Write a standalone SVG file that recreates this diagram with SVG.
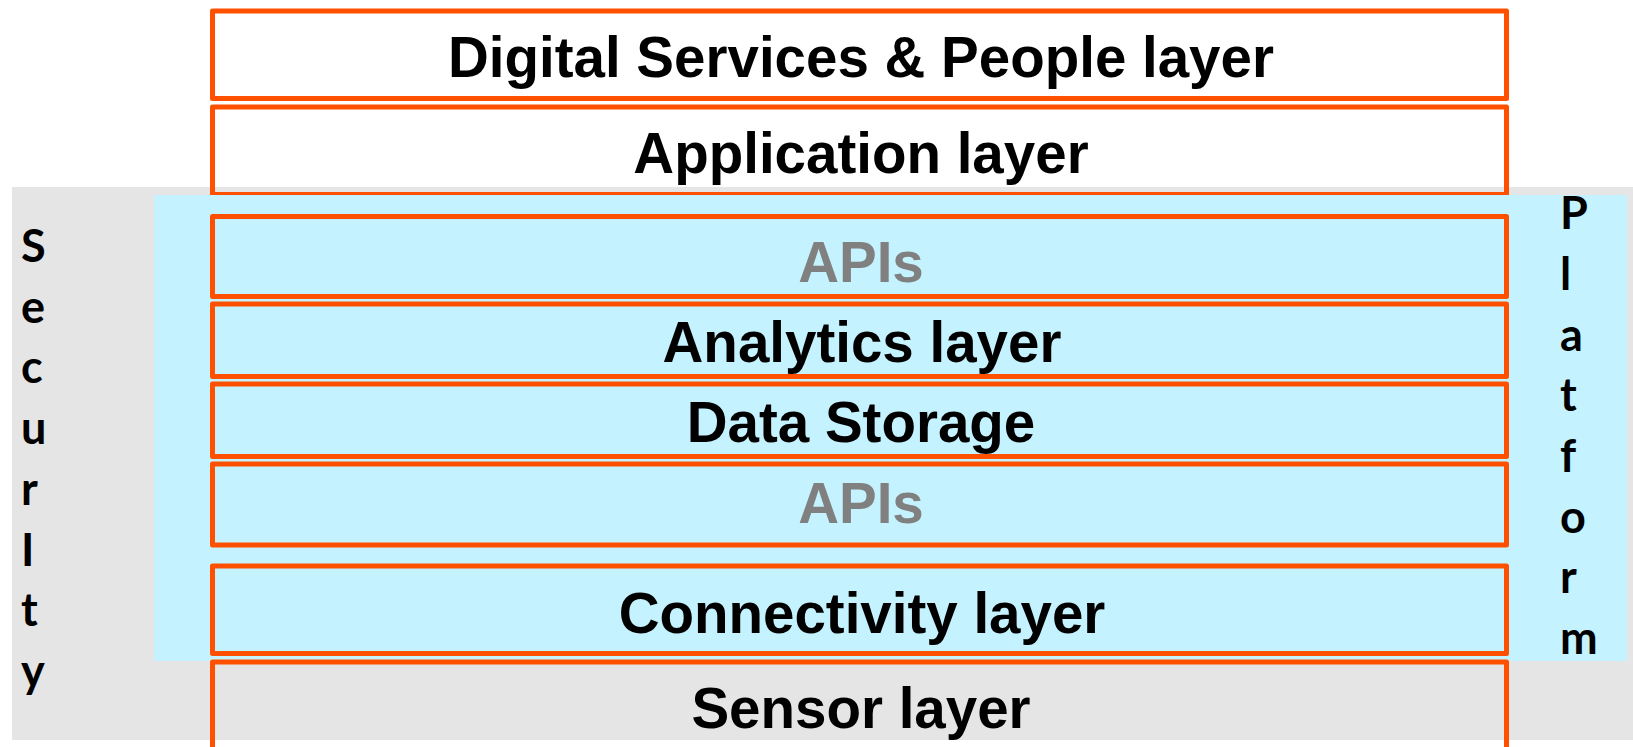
<svg xmlns="http://www.w3.org/2000/svg" width="1633" height="747" viewBox="0 0 1633 747">
<style>
.box{fill:none;stroke:#FF5000;stroke-width:5;stroke-linejoin:round}
.lbl{font-family:"Liberation Sans",Arial,sans-serif;font-weight:bold;font-size:56.5px;text-anchor:middle;fill:#000}
.api{fill:#808080}
.side{font-family:Lato,"Open Sans",sans-serif;font-weight:bold;font-size:45px;fill:#000}
</style>
<rect width="1633" height="747" fill="#fff"/>
<rect id="security-bg" x="12" y="187" width="1621" height="553" fill="#E5E5E5"/>
<g id="digital-services">
<rect class="box" x="212.5" y="11" width="1294" height="87.5"/>
<text class="lbl" x="861" y="76.7">Digital Services &amp; People layer</text>
</g>
<g id="application">
<rect class="box" x="212.5" y="107" width="1294" height="87.5"/>
<text class="lbl" x="861" y="173.3">Application layer</text>
</g>
<rect id="platform-bg" x="154" y="195" width="1473" height="466" fill="#C4F2FE"/>
<g id="apis-top">
<rect class="box" x="212.5" y="216.5" width="1294" height="80"/>
<text class="lbl api" x="861" y="282.3">APIs</text>
</g>
<g id="analytics">
<rect class="box" x="212.5" y="304" width="1294" height="72.5"/>
<text class="lbl" x="862" y="362.3">Analytics layer</text>
</g>
<g id="data-storage">
<rect class="box" x="212.5" y="384" width="1294" height="72.5"/>
<text class="lbl" x="861" y="441.7">Data Storage</text>
</g>
<g id="apis-bottom">
<rect class="box" x="212.5" y="464" width="1294" height="81"/>
<text class="lbl api" x="861" y="523.3">APIs</text>
</g>
<g id="connectivity">
<rect class="box" x="212.5" y="566" width="1294" height="87.5"/>
<text class="lbl" x="862" y="633.3">Connectivity layer</text>
</g>
<g id="sensor">
<rect class="box" x="212.5" y="662" width="1294" height="120"/>
<text class="lbl" x="861" y="728.3">Sensor layer</text>
</g>
<g id="security-label" class="side">
<text x="21" y="262">S</text>
<text x="21" y="322.7">e</text>
<text x="21" y="383.4">c</text>
<text x="21" y="444.1">u</text>
<text x="21" y="504.8">r</text>
<text x="21" y="565.5">I</text>
<text x="21" y="626.2">t</text>
<text x="21" y="686.9">y</text>
</g>
<g id="platform-label" class="side">
<text x="1560" y="229.3">P</text>
<text x="1560" y="290">l</text>
<text x="1560" y="350.7">a</text>
<text x="1560" y="411.3">t</text>
<text x="1560" y="472">f</text>
<text x="1560" y="532.7">o</text>
<text x="1560" y="593.3">r</text>
<text x="1560" y="654">m</text>
</g>
<g id="connectors"/>
</svg>
